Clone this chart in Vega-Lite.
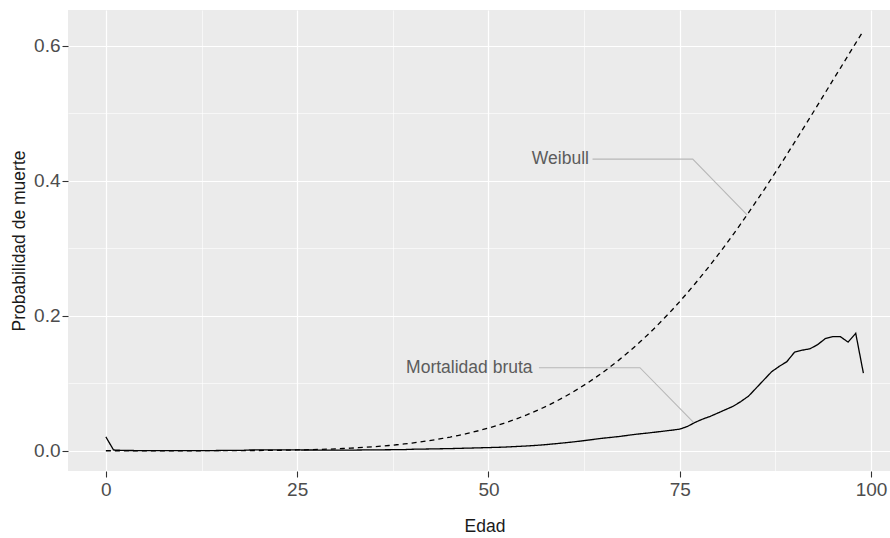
{
  "$schema": "https://vega.github.io/schema/vega-lite/v6.json",
  "autosize": {"type": "none"},
  "padding": {"left": 68, "top": 10, "right": 0, "bottom": 67},
  "width": 822,
  "height": 461,
  "background": "#FFFFFF",
  "config": {
    "view": {"fill": "#EBEBEB", "stroke": null},
    "font": "Liberation Sans",
    "axis": {
      "domain": false,
      "labelFont": "Liberation Sans",
      "titleFont": "Liberation Sans",
      "labelFontSize": 19,
      "labelColor": "#4D4D4D",
      "titleFontSize": 17.5,
      "titleFontWeight": "normal",
      "titleColor": "#1A1A1A",
      "tickColor": "#333333",
      "tickWidth": 1.1,
      "tickSize": 6,
      "gridColor": "#FFFFFF"
    }
  },
  "datasets": {
    "curvas": [
      {"edad": 0, "bruta": 0.0205, "weibull": 0},
      {"edad": 1, "bruta": 0.0012, "weibull": 0},
      {"edad": 2, "bruta": 0.0006, "weibull": 0},
      {"edad": 3, "bruta": 0.0004, "weibull": 0},
      {"edad": 4, "bruta": 0.0003, "weibull": 0},
      {"edad": 5, "bruta": 0.0003, "weibull": 0},
      {"edad": 6, "bruta": 0.0002, "weibull": 0},
      {"edad": 7, "bruta": 0.0002, "weibull": 0},
      {"edad": 8, "bruta": 0.0002, "weibull": 0},
      {"edad": 9, "bruta": 0.0002, "weibull": 0},
      {"edad": 10, "bruta": 0.0002, "weibull": 0.00001},
      {"edad": 11, "bruta": 0.0002, "weibull": 0.00002},
      {"edad": 12, "bruta": 0.0002, "weibull": 0.00003},
      {"edad": 13, "bruta": 0.0003, "weibull": 0.00005},
      {"edad": 14, "bruta": 0.0003, "weibull": 0.00007},
      {"edad": 15, "bruta": 0.0004, "weibull": 0.00009},
      {"edad": 16, "bruta": 0.0005, "weibull": 0.00013},
      {"edad": 17, "bruta": 0.0006, "weibull": 0.00017},
      {"edad": 18, "bruta": 0.0007, "weibull": 0.00023},
      {"edad": 19, "bruta": 0.0012, "weibull": 0.0003},
      {"edad": 20, "bruta": 0.0013, "weibull": 0.00038},
      {"edad": 21, "bruta": 0.0013, "weibull": 0.00049},
      {"edad": 22, "bruta": 0.0012, "weibull": 0.00061},
      {"edad": 23, "bruta": 0.0012, "weibull": 0.00076},
      {"edad": 24, "bruta": 0.0012, "weibull": 0.00094},
      {"edad": 25, "bruta": 0.0012, "weibull": 0.00115},
      {"edad": 26, "bruta": 0.0011, "weibull": 0.00139},
      {"edad": 27, "bruta": 0.0011, "weibull": 0.00167},
      {"edad": 28, "bruta": 0.0009, "weibull": 0.002},
      {"edad": 29, "bruta": 0.0009, "weibull": 0.00237},
      {"edad": 30, "bruta": 0.0009, "weibull": 0.0028},
      {"edad": 31, "bruta": 0.001, "weibull": 0.0033},
      {"edad": 32, "bruta": 0.001, "weibull": 0.0038},
      {"edad": 33, "bruta": 0.0011, "weibull": 0.0045},
      {"edad": 34, "bruta": 0.0012, "weibull": 0.0052},
      {"edad": 35, "bruta": 0.0013, "weibull": 0.0059},
      {"edad": 36, "bruta": 0.0014, "weibull": 0.0068},
      {"edad": 37, "bruta": 0.0015, "weibull": 0.0078},
      {"edad": 38, "bruta": 0.0016, "weibull": 0.0089},
      {"edad": 39, "bruta": 0.0017, "weibull": 0.0101},
      {"edad": 40, "bruta": 0.0022, "weibull": 0.0114},
      {"edad": 41, "bruta": 0.0024, "weibull": 0.0129},
      {"edad": 42, "bruta": 0.0026, "weibull": 0.0145},
      {"edad": 43, "bruta": 0.0028, "weibull": 0.0162},
      {"edad": 44, "bruta": 0.003, "weibull": 0.0182},
      {"edad": 45, "bruta": 0.0032, "weibull": 0.0202},
      {"edad": 46, "bruta": 0.0035, "weibull": 0.0225},
      {"edad": 47, "bruta": 0.0038, "weibull": 0.025},
      {"edad": 48, "bruta": 0.0041, "weibull": 0.0277},
      {"edad": 49, "bruta": 0.0044, "weibull": 0.0305},
      {"edad": 50, "bruta": 0.0047, "weibull": 0.0337},
      {"edad": 51, "bruta": 0.005, "weibull": 0.037},
      {"edad": 52, "bruta": 0.0054, "weibull": 0.0407},
      {"edad": 53, "bruta": 0.0059, "weibull": 0.0446},
      {"edad": 54, "bruta": 0.0065, "weibull": 0.0487},
      {"edad": 55, "bruta": 0.0071, "weibull": 0.0532},
      {"edad": 56, "bruta": 0.0078, "weibull": 0.058},
      {"edad": 57, "bruta": 0.0086, "weibull": 0.063},
      {"edad": 58, "bruta": 0.0096, "weibull": 0.0684},
      {"edad": 59, "bruta": 0.0107, "weibull": 0.0742},
      {"edad": 60, "bruta": 0.0118, "weibull": 0.0803},
      {"edad": 61, "bruta": 0.013, "weibull": 0.0867},
      {"edad": 62, "bruta": 0.0143, "weibull": 0.0936},
      {"edad": 63, "bruta": 0.0157, "weibull": 0.1008},
      {"edad": 64, "bruta": 0.0172, "weibull": 0.1085},
      {"edad": 65, "bruta": 0.0186, "weibull": 0.1165},
      {"edad": 66, "bruta": 0.0198, "weibull": 0.1251},
      {"edad": 67, "bruta": 0.021, "weibull": 0.1339},
      {"edad": 68, "bruta": 0.0225, "weibull": 0.1432},
      {"edad": 69, "bruta": 0.024, "weibull": 0.153},
      {"edad": 70, "bruta": 0.0253, "weibull": 0.1632},
      {"edad": 71, "bruta": 0.0265, "weibull": 0.1738},
      {"edad": 72, "bruta": 0.0278, "weibull": 0.185},
      {"edad": 73, "bruta": 0.0292, "weibull": 0.1966},
      {"edad": 74, "bruta": 0.0305, "weibull": 0.2086},
      {"edad": 75, "bruta": 0.032, "weibull": 0.221},
      {"edad": 76, "bruta": 0.036, "weibull": 0.234},
      {"edad": 77, "bruta": 0.042, "weibull": 0.2474},
      {"edad": 78, "bruta": 0.047, "weibull": 0.2612},
      {"edad": 79, "bruta": 0.051, "weibull": 0.2754},
      {"edad": 80, "bruta": 0.056, "weibull": 0.2901},
      {"edad": 81, "bruta": 0.061, "weibull": 0.3051},
      {"edad": 82, "bruta": 0.066, "weibull": 0.3207},
      {"edad": 83, "bruta": 0.073, "weibull": 0.3365},
      {"edad": 84, "bruta": 0.081, "weibull": 0.3528},
      {"edad": 85, "bruta": 0.093, "weibull": 0.3695},
      {"edad": 86, "bruta": 0.105, "weibull": 0.3863},
      {"edad": 87, "bruta": 0.117, "weibull": 0.4036},
      {"edad": 88, "bruta": 0.125, "weibull": 0.421},
      {"edad": 89, "bruta": 0.132, "weibull": 0.4388},
      {"edad": 90, "bruta": 0.146, "weibull": 0.4568},
      {"edad": 91, "bruta": 0.149, "weibull": 0.475},
      {"edad": 92, "bruta": 0.151, "weibull": 0.4932},
      {"edad": 93, "bruta": 0.157, "weibull": 0.5116},
      {"edad": 94, "bruta": 0.166, "weibull": 0.5301},
      {"edad": 95, "bruta": 0.169, "weibull": 0.5487},
      {"edad": 96, "bruta": 0.169, "weibull": 0.567},
      {"edad": 97, "bruta": 0.161, "weibull": 0.5856},
      {"edad": 98, "bruta": 0.174, "weibull": 0.604},
      {"edad": 99, "bruta": 0.115, "weibull": 0.6222}
    ],
    "guias": [
      {"serie": "Weibull", "orden": 0, "edad": 63.6, "prob": 0.432},
      {"serie": "Weibull", "orden": 1, "edad": 76.7, "prob": 0.432},
      {"serie": "Weibull", "orden": 2, "edad": 83.8, "prob": 0.3495},
      {"serie": "Mortalidad bruta", "orden": 0, "edad": 56.6, "prob": 0.123},
      {"serie": "Mortalidad bruta", "orden": 1, "edad": 69.8, "prob": 0.123},
      {"serie": "Mortalidad bruta", "orden": 2, "edad": 76.8, "prob": 0.042}
    ],
    "etiquetas": [
      {"serie": "Weibull", "edad": 59.4, "prob": 0.432},
      {"serie": "Mortalidad bruta", "edad": 47.5, "prob": 0.123}
    ]
  },
  "encoding": {
    "x": {
      "field": "edad",
      "type": "quantitative",
      "scale": {"domain": [-4.95, 102.48], "nice": false, "zero": false},
      "axis": {
        "title": "Edad",
        "values": [0, 12.5, 25, 37.5, 50, 62.5, 75, 87.5, 100],
        "labelExpr": "datum.value % 25 === 0 ? datum.label : ''",
        "labelPadding": 3,
        "labelFlush": false,
        "labelOverlap": false,
        "tickOpacity": {"condition": {"test": "datum.value % 25 === 0", "value": 1}, "value": 0},
        "gridWidth": {"condition": {"test": "datum.value % 25 === 0", "value": 1.2}, "value": 0.6},
        "titleX": 416.5,
        "titleY": 55,
        "titleAlign": "center",
        "titleBaseline": "middle"
      }
    },
    "y": {
      "field": "prob",
      "type": "quantitative",
      "scale": {"domain": [-0.03, 0.653], "nice": false, "zero": false},
      "axis": {
        "title": "Probabilidad de muerte",
        "values": [0, 0.1, 0.2, 0.3, 0.4, 0.5, 0.6],
        "format": ".1f",
        "labelExpr": "round(datum.value * 10) % 2 === 0 ? datum.label : ''",
        "labelPadding": 2,
        "labelOverlap": false,
        "labelFlush": false,
        "tickOpacity": {"condition": {"test": "round(datum.value * 10) % 2 === 0", "value": 1}, "value": 0},
        "gridWidth": {"condition": {"test": "round(datum.value * 10) % 2 === 0", "value": 1.2}, "value": 0.6},
        "titleX": -48.7,
        "titleY": 230.5,
        "titleAlign": "center",
        "titleBaseline": "middle"
      }
    }
  },
  "layer": [
    {
      "data": {"name": "curvas"},
      "transform": [
        {"fold": ["bruta", "weibull"], "as": ["serie", "prob"]}
      ],
      "mark": {"type": "line", "color": "#000000", "strokeWidth": 1.3},
      "encoding": {
        "detail": {"field": "serie", "type": "nominal"},
        "strokeDash": {
          "field": "serie",
          "type": "nominal",
          "scale": {"domain": ["bruta", "weibull"], "range": [[1, 0], [5, 4]]},
          "legend": null
        }
      }
    },
    {
      "data": {"name": "guias"},
      "mark": {"type": "line", "color": "#B8B8B8", "strokeWidth": 1.1},
      "encoding": {
        "detail": {"field": "serie", "type": "nominal"},
        "order": {"field": "orden", "type": "quantitative"}
      }
    },
    {
      "data": {"name": "etiquetas"},
      "mark": {
        "type": "text",
        "font": "Liberation Sans",
        "fontSize": 17.5,
        "color": "#5C5C5C",
        "align": "center",
        "baseline": "middle"
      },
      "encoding": {
        "text": {"field": "serie", "type": "nominal"}
      }
    }
  ]
}
